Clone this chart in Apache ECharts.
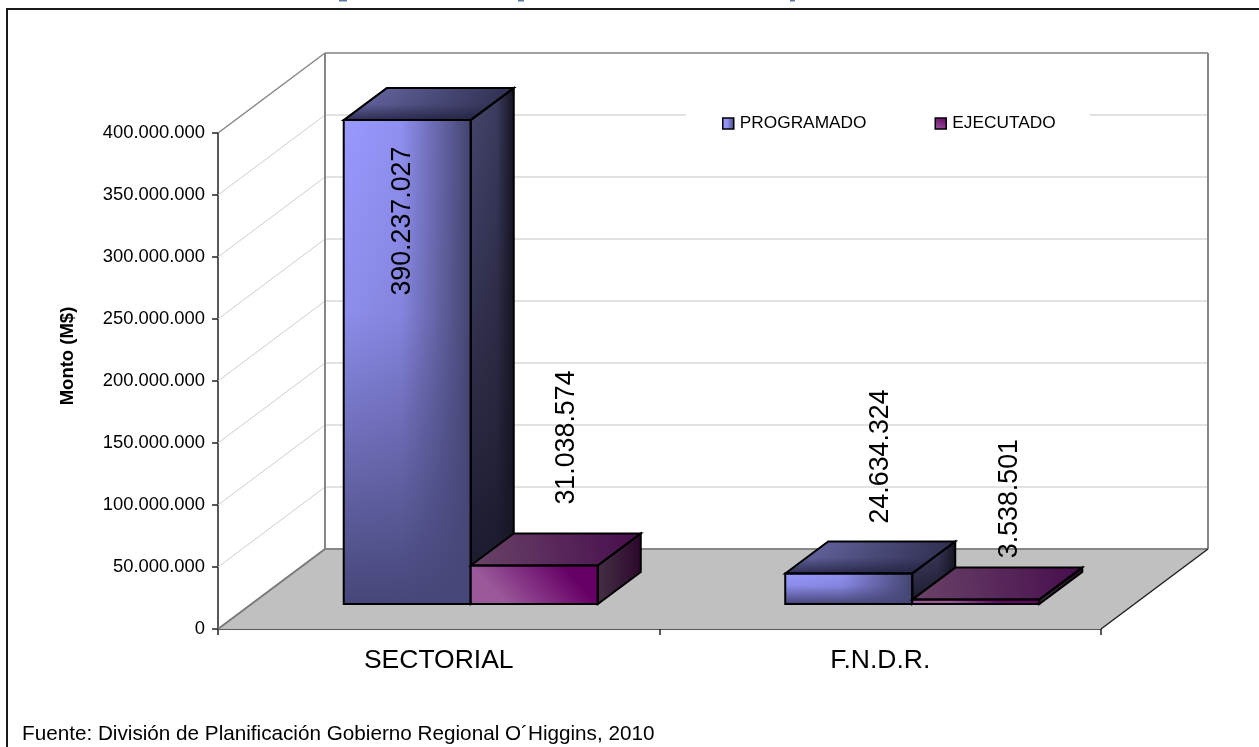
<!DOCTYPE html>
<html>
<head>
<meta charset="utf-8">
<style>html,body{margin:0;padding:0;background:#fff}#c{width:1259px;height:747px}</style>
<script src="https://cdn.jsdelivr.net/npm/echarts@6/dist/echarts.min.js"></script>
</head>
<body>
<div id="c"></div>
<script>
var categories = ['SECTORIAL', 'F.N.D.R.'];
var programado = [390237027, 24634324];
var ejecutado = [31038574, 3538501];
var yTicks = [0, 50000000, 100000000, 150000000, 200000000, 250000000, 300000000, 350000000, 400000000];
var seriesNames = ['PROGRAMADO', 'EJECUTADO'];
var yAxisName = 'Monto (M$)';
var sourceNote = 'Fuente: División de Planificación Gobierno Regional O´Higgins, 2010';

// label nudges in px, relative to the bar centre and the front top edge
var labelNudge = [[[-5, 101], [32, -117]], [[32, -128], [34, -101]]];

var DEPTH_X = 107, DEPTH_Y = 80;       // full depth of the 3D box
var BAR_OFF_X = 32, BAR_OFF_Y = 25;    // front of bars, from the front plane
var BAR_D_X = 43, BAR_D_Y = 32;        // depth of each bar
var BAR_W_RATIO = 0.2877;

function grad(x0, y0, x1, y1, stops) {
  return {type: 'linear', x: x0, y: y0, x2: x1, y2: y1, colorStops: stops.map(function (s) {
    return {offset: s[0], color: s[1]};
  })};
}
var faces = [
  {
    front: [
      grad(0, 0, 1, 0, [[0, '#9999ff'], [0.45, '#8f8ff0'], [1, '#44446f']]),
      grad(0, 0, 0, 1, [[0, 'rgba(70,70,120,0)'], [0.4, 'rgba(70,70,120,0.15)'], [0.8, 'rgba(70,70,120,0.72)'], [1, 'rgba(70,70,120,1)']])
    ],
    side: [
      grad(0, 0, 1, 0, [[0, '#47476f'], [0.6, '#3c3c60'], [1, '#14141f']]),
      grad(0, 0, 0, 1, [[0, 'rgba(22,22,38,0)'], [1, 'rgba(22,22,38,0.95)']])
    ],
    top: [
      grad(0, 0, 1, 0, [[0, '#6f6fb0'], [1, '#2f2f50']]),
      grad(0, 0, 0, 1, [[0, 'rgba(30,30,60,0)'], [0.5, 'rgba(30,30,60,0.1)'], [1, 'rgba(30,30,60,0.8)']])
    ]
  },
  {
    front: [grad(0.3, 1.1, 0.7, -0.1, [[0, '#9a5a9a'], [1, '#660066']])],
    side: [grad(0, 0, 1, 0, [[0, '#452f45'], [1, '#2c082c']])],
    top: [grad(0, 1, 1, 0, [[0, '#6a4468'], [1, '#470d4d']])]
  }
];

function poly(points, fill, stroke, lw) {
  return {type: 'polygon', shape: {points: points}, silent: true,
    style: {fill: fill || 'none', stroke: stroke || 'none', lineWidth: lw || 0, lineJoin: 'miter'}};
}
function line(a, b, color, lw) {
  return {type: 'line', shape: {x1: a[0], y1: a[1], x2: b[0], y2: b[1]}, silent: true,
    style: {stroke: color, lineWidth: lw}};
}

function renderBox(params, api) {
  var s = params.seriesIndex - 1;
  var idx = api.value(0), v = api.value(1);
  var base = api.coord([idx, 0]), top = api.coord([idx, v]);
  var band = api.size([1, 0])[0];
  var w = band * BAR_W_RATIO;
  var x0 = base[0] + (s === 0 ? -w : 0) + BAR_OFF_X, x1 = x0 + w;
  var yb = base[1] - BAR_OFF_Y, yt = top[1] - BAR_OFF_Y;
  var dx = BAR_D_X, dy = BAR_D_Y;
  var f = faces[s], ch = [];
  var frontPts = [[x0, yt], [x1, yt], [x1, yb], [x0, yb]];
  var sidePts = [[x1, yt], [x1 + dx, yt - dy], [x1 + dx, yb - dy], [x1, yb]];
  var topPts = [[x0, yt], [x0 + dx, yt - dy], [x1 + dx, yt - dy], [x1, yt]];
  f.side.forEach(function (c) { ch.push(poly(sidePts, c)); });
  f.top.forEach(function (c) { ch.push(poly(topPts, c)); });
  f.front.forEach(function (c) { ch.push(poly(frontPts, c)); });
  [sidePts, topPts, frontPts].forEach(function (p) { ch.push(poly(p, null, '#000', 2)); });
  var nudge = labelNudge[s][idx];
  ch.push({
    type: 'text', x: (x0 + x1) / 2 + nudge[0], y: yt + nudge[1], rotation: Math.PI / 2, silent: true,
    style: {
      text: String(v).replace(/\B(?=(\d{3})+(?!\d))/g, '.'),
      fontFamily: 'Liberation Sans', fontSize: 26.8, fill: '#000', align: 'center', verticalAlign: 'middle'
    }
  });
  return {type: 'group', children: ch};
}

function renderWalls(params, api) {
  var band = api.size([1, 0])[0];
  var left = api.coord([0, 0])[0] - band / 2;
  var right = api.coord([categories.length - 1, 0])[0] + band / 2;
  var y0 = api.coord([0, 0])[1];
  var ymax = api.coord([0, yTicks[yTicks.length - 1]])[1];
  var bl = left + DEPTH_X, br = right + DEPTH_X, d = DEPTH_Y;
  var ch = [];
  ch.push(poly([[left, y0], [right, y0], [br, y0 - d], [bl, y0 - d]], '#c0c0c0'));
  yTicks.slice(1, -1).forEach(function (t) {
    var y = api.coord([0, t])[1];
    ch.push(line([left, y], [bl, y - d], '#cfcfcf', 1));
    ch.push(line([bl, y - d], [br, y - d], '#d9d9d9', 1.5));
  });
  ch.push(line([left, ymax], [bl, ymax - d], '#868686', 1.5));
  ch.push(line([bl, ymax - d], [br, ymax - d], '#a0a0a0', 2));
  ch.push(line([bl, ymax - d], [bl, y0 - d], '#868686', 2));
  ch.push(line([br, ymax - d], [br, y0 - d], '#868686', 2));
  ch.push(line([bl, y0 - d], [br, y0 - d], '#868686', 2));
  ch.push(line([left, y0], [bl, y0 - d], '#7a7a7a', 2));
  ch.push(line([right, y0], [br, y0 - d], '#222', 1.5));
  return {type: 'group', children: ch};
}

function toPairs(arr) { return arr.map(function (v, i) { return [i, v]; }); }

var chart = echarts.init(document.getElementById('c'), null, {renderer: 'canvas'});
chart.setOption({
  animation: false,
  backgroundColor: '#fff',
  grid: {left: 218, top: 133, width: 883, height: 496},
  xAxis: {
    type: 'category', data: categories,
    axisLine: {show: true, lineStyle: {color: '#222', width: 1.5}},
    axisTick: {show: true, length: 6, lineStyle: {color: '#222', width: 1.5}},
    axisLabel: {color: '#000', fontFamily: 'Liberation Sans', fontSize: 26.5, margin: 18},
    splitLine: {show: false}
  },
  yAxis: {
    type: 'value', min: 0, max: 400000000, interval: 50000000,
    axisLine: {show: true, lineStyle: {color: '#222', width: 1.5}},
    axisTick: {show: true, length: 6, lineStyle: {color: '#222', width: 1.5}},
    axisLabel: {
      color: '#000', fontFamily: 'Liberation Sans', fontSize: 18.4, margin: 13,
      formatter: function (v) { return String(v).replace(/\B(?=(\d{3})+(?!\d))/g, '.'); }
    },
    splitLine: {show: false}
  },
  legend: {
    left: 686, top: 101,
    data: seriesNames.map(function (n, i) {
      return {name: n, icon: 'rect', itemStyle: {color: faces[i].front[0], borderColor: '#000', borderWidth: 1.5}};
    }),
    orient: 'horizontal', itemWidth: 11, itemHeight: 11, itemGap: 68,
    padding: [14, 34, 14, 36], backgroundColor: '#fff',
    textStyle: {color: '#000', fontFamily: 'Liberation Sans', fontSize: 17.3, padding: [0, 0, 0, 1]},
    selectedMode: false
  },
  graphic: [
    {type: 'polyline', shape: {points: [[7, 747], [7, 9], [1259, 9]]}, style: {stroke: '#1a1a1a', fill: 'none', lineWidth: 2}, silent: true},
    {type: 'rect', shape: {x: 339, y: 0, width: 8, height: 1.5}, style: {fill: '#5a78a0'}, silent: true},
    {type: 'rect', shape: {x: 518, y: 0, width: 6, height: 1.5}, style: {fill: '#5a78a0'}, silent: true},
    {type: 'rect', shape: {x: 790, y: 0, width: 5, height: 1.5}, style: {fill: '#5a78a0'}, silent: true},
    {type: 'text', x: 68, y: 356, rotation: Math.PI / 2, silent: true,
      style: {text: yAxisName, fontFamily: 'Liberation Sans', fontWeight: 'bold', fontSize: 18.5, fill: '#000', align: 'center', verticalAlign: 'middle'}},
    {type: 'text', x: 22, y: 734, silent: true,
      style: {text: sourceNote, fontFamily: 'Liberation Sans', fontSize: 20.7, fill: '#000', align: 'left', verticalAlign: 'middle'}}
  ],
  series: [
    {type: 'custom', name: 'walls', silent: true, z: 1, clip: false, data: [[0, 0]], renderItem: renderWalls, tooltip: {show: false}},
    {type: 'custom', name: seriesNames[0], z: 2, clip: false, data: toPairs(programado), encode: {x: 0, y: 1}, renderItem: renderBox},
    {type: 'custom', name: seriesNames[1], z: 3, clip: false, data: toPairs(ejecutado), encode: {x: 0, y: 1}, renderItem: renderBox}
  ]
});
</script>
</body>
</html>
